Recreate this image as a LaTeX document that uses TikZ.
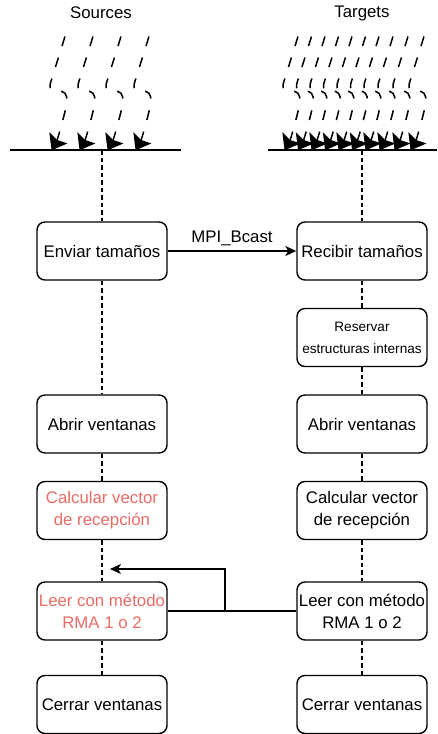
\documentclass[tikz,border=0pt]{standalone}
\usepackage{fontspec}
\setmainfont{Liberation Sans}
\usetikzlibrary{arrows.meta}
\definecolor{alert}{HTML}{EA6B66}
\begin{document}
\begin{tikzpicture}[x=1pt,y=-1pt,
  every node/.style={font=\fontsize{16.8}{22}\selectfont},
  stepbox/.style={draw, line width=1.4pt, rounded corners=8pt,
    minimum width=130pt, minimum height=58pt, align=center, inner sep=0pt},
  smalltext/.style={font=\fontsize{13.6}{22}\selectfont},
  lifeline/.style={line width=1.1pt, dash pattern=on 4.5pt off 3pt},
  bar/.style={line width=1.5pt},
  msg/.style={line width=1.4pt, -{Stealth[length=11pt,width=10pt,inset=3pt]}},
  raindash/.style={line width=1.5pt, dash pattern=on 10pt off 12pt},
  % one falling dashed stream ending in a filled head at the pic origin
  rain/.pic={
    \draw[raindash] (13,-113) -- (-2,-65)
      .. controls (-3,-56) and (5,-59) .. (10,-58)
      .. controls (15,-57) and (16,-50) .. (14,-42)
      .. controls (9,-22) .. (5,-9);
    \filldraw[line width=1pt, line join=miter]
      (0,0) -- (-2,-16) -- (5,-9) -- (14,-6) -- cycle;}
]
\useasboundingbox (0,0) rectangle (437,734);

% column titles
\node (srcTitle) at (101,13) {Sources};
\node (tgtTitle) at (362,13) {Targets};

% incoming streams
\foreach \x in {52,80,108,136} \pic at (\x,149.5) {rain};
\foreach \x in {285,298.5,312,325.5,339,352.5,366,380,395,411} \pic at (\x,149.5) {rain};

% bars
\coordinate (sBarL) at (10,150);
\coordinate (sBarR) at (181,150);
\coordinate (tBarL) at (268,150);
\coordinate (tBarR) at (437,150);
\coordinate (sTop) at (102,150);
\coordinate (tTop) at (362,150);
\draw[bar] (sBarL) -- (sBarR);
\draw[bar] (tBarL) -- (tBarR);

% source steps
\node[stepbox] (sEnviar) at (102,251) {Enviar tamaños};
\node[stepbox] (sAbrir) at (102,424) {Abrir ventanas};
\node[stepbox, text=alert] (sCalc) at (102,510.5) {Calcular vector\\de recepción};
\node[stepbox, text=alert] (sLeer) at (102,611) {Leer con método\\RMA 1 o 2};
\node[stepbox] (sCerrar) at (102,704.5) {Cerrar ventanas};

% target steps
\node[stepbox] (tRecibir) at (362,251) {Recibir tamaños};
\node[stepbox, smalltext] (tReservar) at (362,337.5) {Reservar\\estructuras internas};
\node[stepbox] (tAbrir) at (362,424) {Abrir ventanas};
\node[stepbox] (tCalc) at (362,510.5) {Calcular vector\\de recepción};
\node[stepbox] (tLeer) at (362,611) {Leer con método\\RMA 1 o 2};
\node[stepbox] (tCerrar) at (362,704.5) {Cerrar ventanas};

% lifelines
\draw[lifeline] (sTop) -- (sEnviar.north);
\draw[lifeline] (sEnviar.south) -- (sAbrir.north);
\draw[lifeline] (sAbrir.south) -- (sCalc.north);
\draw[lifeline] (sCalc.south) -- (sLeer.north);
\draw[lifeline] (sLeer.south) -- (sCerrar.north);
\draw[lifeline] (tTop) -- (tRecibir.north);
\draw[lifeline] (tRecibir.south) -- (tReservar.north);
\draw[lifeline] (tReservar.south) -- (tAbrir.north);
\draw[lifeline] (tAbrir.south) -- (tCalc.north);
\draw[lifeline] (tCalc.south) -- (tLeer.north);
\draw[lifeline] (tLeer.south) -- (tCerrar.north);

% messages
\draw[msg] (sEnviar.east) -- node[above, inner sep=4pt] (bcast) {MPI\_Bcast} (tRecibir.west);
\coordinate (jn) at (225,611);
\coordinate (retTip) at (110,569);
\draw[line width=1.4pt] (tLeer.west) -- (sLeer.east);
\draw[msg] (jn) |- (retTip);
\end{tikzpicture}
\end{document}
